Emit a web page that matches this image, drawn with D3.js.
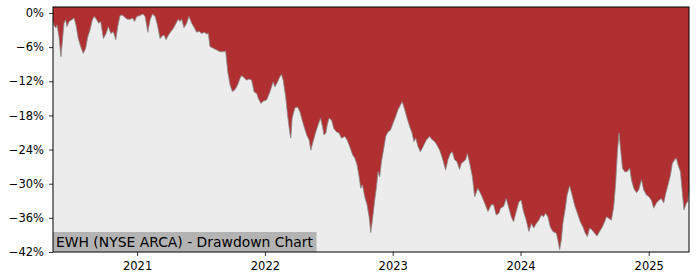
<!DOCTYPE html>
<html>
<head>
<meta charset="utf-8">
<script src="https://cdn.jsdelivr.net/npm/d3@7"></script>
<style>
  body { margin: 0; background: #fff; }
  svg text { font-family: "DejaVu Sans", sans-serif; fill: #000; }
</style>
</head>
<body>
<svg id="chart" width="700" height="280"></svg>
<script>
// decimal years
const years = [
  2020.344, 2020.352, 2020.367, 2020.375, 2020.391, 2020.406, 2020.420, 2020.430, 2020.443, 2020.453,
  2020.469, 2020.490, 2020.508, 2020.523, 2020.541, 2020.560, 2020.580, 2020.599, 2020.615, 2020.633,
  2020.651, 2020.666, 2020.685, 2020.701, 2020.716, 2020.737, 2020.758, 2020.776, 2020.795, 2020.815,
  2020.834, 2020.849, 2020.867, 2020.888, 2020.906, 2020.924, 2020.945, 2020.966, 2020.979, 2020.998,
  2021.018, 2021.045, 2021.063, 2021.084, 2021.102, 2021.120, 2021.141, 2021.159, 2021.180, 2021.198,
  2021.213, 2021.227, 2021.245, 2021.263, 2021.284, 2021.305, 2021.323, 2021.336, 2021.349, 2021.367,
  2021.388, 2021.406, 2021.427, 2021.448, 2021.466, 2021.484, 2021.505, 2021.526, 2021.545, 2021.557,
  2021.570, 2021.596, 2021.623, 2021.648, 2021.674, 2021.693, 2021.709, 2021.727, 2021.745, 2021.766,
  2021.787, 2021.805, 2021.818, 2021.838, 2021.857, 2021.875, 2021.896, 2021.916, 2021.935, 2021.948,
  2021.969, 2021.987, 2022.013, 2022.039, 2022.065, 2022.078, 2022.099, 2022.117, 2022.130, 2022.143,
  2022.162, 2022.177, 2022.195, 2022.203, 2022.213, 2022.234, 2022.255, 2022.273, 2022.299, 2022.326,
  2022.346, 2022.359, 2022.377, 2022.398, 2022.416, 2022.435, 2022.451, 2022.461, 2022.477, 2022.487,
  2022.502, 2022.521, 2022.539, 2022.560, 2022.580, 2022.599, 2022.625, 2022.643, 2022.664, 2022.685,
  2022.703, 2022.721, 2022.737, 2022.750, 2022.763, 2022.781, 2022.799, 2022.815, 2022.828, 2022.841,
  2022.859, 2022.873, 2022.885, 2022.898, 2022.912, 2022.930, 2022.945, 2022.963, 2022.982, 2023.002,
  2023.023, 2023.041, 2023.060, 2023.074, 2023.094, 2023.112, 2023.133, 2023.151, 2023.166, 2023.180,
  2023.198, 2023.216, 2023.237, 2023.263, 2023.289, 2023.310, 2023.328, 2023.346, 2023.367, 2023.388,
  2023.414, 2023.432, 2023.451, 2023.466, 2023.484, 2023.502, 2023.523, 2023.537, 2023.555, 2023.570,
  2023.584, 2023.602, 2023.623, 2023.641, 2023.666, 2023.693, 2023.719, 2023.745, 2023.771, 2023.789,
  2023.810, 2023.830, 2023.844, 2023.867, 2023.888, 2023.909, 2023.927, 2023.945, 2023.966, 2023.987,
  2024.005, 2024.023, 2024.044, 2024.065, 2024.084, 2024.102, 2024.123, 2024.143, 2024.162, 2024.180,
  2024.195, 2024.213, 2024.232, 2024.252, 2024.279, 2024.291, 2024.305, 2024.318, 2024.330, 2024.348,
  2024.363, 2024.383, 2024.402, 2024.422, 2024.448, 2024.466, 2024.487, 2024.505, 2024.521, 2024.539,
  2024.557, 2024.578, 2024.596, 2024.617, 2024.638, 2024.656, 2024.670, 2024.690, 2024.709, 2024.727,
  2024.742, 2024.755, 2024.768, 2024.781, 2024.795, 2024.813, 2024.830, 2024.852, 2024.865, 2024.883,
  2024.904, 2024.922, 2024.943, 2024.961, 2024.982, 2025.002, 2025.021, 2025.039, 2025.060, 2025.080,
  2025.099, 2025.117, 2025.133, 2025.151, 2025.170, 2025.185, 2025.203, 2025.216, 2025.229, 2025.248,
  2025.263, 2025.276, 2025.295, 2025.307, 2025.315
];

// drawdown in %
const drawdown = [
  -1.5, -2.2, -2.6, -2.1, -4.2, -7.7, -4.2, -1.8, -1.2, -2.4,
  -1.5, -1.2, -0.9, -2.1, -4.5, -5.9, -7.1, -6.2, -4.2, -3.0,
  -1.2, -0.6, -1.2, -1.8, -1.5, -4.5, -3.6, -2.4, -3.6, -3.3,
  -4.7, -2.4, -0.4, -0.4, -0.8, -1.1, -1.1, -0.9, -1.5, -0.6,
  -0.5, -0.2, -0.6, -3.4, -1.2, -0.2, -0.6, -2.1, -4.5, -4.0,
  -3.9, -4.7, -3.9, -3.3, -2.7, -1.8, -1.1, -1.5, -1.1, -2.6,
  -1.8, -0.6, -1.8, -2.6, -3.4, -3.2, -3.6, -3.4, -3.7, -3.6,
  -5.9, -6.2, -6.5, -6.8, -6.8, -6.7, -10.3, -12.6, -13.8, -13.5,
  -12.6, -11.5, -11.0, -11.4, -11.8, -11.6, -11.8, -13.9, -14.1, -15.0,
  -15.9, -15.5, -15.3, -13.9, -12.1, -13.0, -12.1, -11.2, -10.8, -11.8,
  -14.7, -17.9, -21.1, -22.0, -18.5, -16.7, -16.5, -17.3, -19.4, -21.4,
  -22.3, -24.1, -22.6, -20.9, -19.7, -18.5, -20.0, -21.4, -21.1, -19.7,
  -18.5, -18.8, -20.3, -20.9, -21.1, -22.0, -21.7, -22.3, -23.5, -24.9,
  -25.5, -26.7, -28.8, -30.8, -30.2, -32.3, -33.7, -35.8, -38.6, -36.4,
  -32.9, -30.5, -27.9, -28.8, -26.1, -23.8, -21.7, -20.9, -20.6, -19.4,
  -18.2, -17.0, -16.2, -15.6, -17.0, -18.5, -20.0, -21.1, -22.6, -22.0,
  -23.5, -24.4, -23.5, -22.3, -21.7, -22.3, -22.6, -23.2, -24.1, -25.5,
  -27.6, -25.8, -24.7, -24.4, -25.8, -26.1, -27.5, -26.4, -26.1, -25.8,
  -24.7, -26.4, -28.8, -32.3, -30.8, -32.0, -33.4, -34.9, -33.7, -33.7,
  -35.5, -35.2, -34.3, -34.0, -32.6, -34.3, -35.8, -36.7, -34.9, -33.2,
  -32.9, -34.9, -36.4, -38.4, -37.0, -37.8, -37.0, -36.4, -35.5, -35.8,
  -35.2, -35.8, -37.6, -38.4, -38.7, -39.9, -41.6, -39.9, -37.0, -34.5,
  -32.0, -30.4, -32.0, -33.8, -35.5, -36.7, -37.6, -38.7, -39.3, -37.8,
  -38.1, -38.7, -39.2, -38.4, -37.6, -36.7, -35.8, -36.1, -36.4, -34.0,
  -29.9, -24.7, -21.1, -24.1, -27.3, -27.9, -27.9, -27.3, -29.3, -30.8,
  -31.6, -31.1, -29.3, -31.1, -32.0, -32.3, -32.9, -34.3, -33.4, -32.9,
  -32.6, -33.4, -31.7, -30.2, -28.5, -26.4, -25.8, -25.5, -26.7, -27.9,
  -31.7, -34.6, -33.4, -33.1, -31.1
];

const yTicks = [0, -6, -12, -18, -24, -30, -36, -42];
const title = "EWH (NYSE ARCA) - Drawdown Chart";

function yearToDate(t) {
  const y = Math.floor(t);
  const a = new Date(y, 0, 1), b = new Date(y + 1, 0, 1);
  return new Date(+a + (t - y) * (b - a));
}

const data = years.map((t, i) => ({ date: yearToDate(t), dd: drawdown[i] }));

const margin = { top: 7, right: 11, bottom: 28, left: 53 };
const width = 700 - margin.left - margin.right;
const height = 280 - margin.top - margin.bottom;

const svg = d3.select('#chart');
const g = svg.append('g').attr('transform', `translate(${margin.left},${margin.top})`);

const x = d3.scaleTime()
  .domain([yearToDate(2020.344), yearToDate(2025.315)])
  .range([0, width]);
const y = d3.scaleLinear().domain([-42, 1.05]).range([height, 0]);

g.append('rect')
  .attr('width', width)
  .attr('height', height)
  .attr('fill', '#ececec');

const area = d3.area()
  .x(d => x(d.date))
  .y0(0)
  .y1(d => y(d.dd));

g.append('path')
  .datum(data)
  .attr('d', area)
  .attr('fill', '#b03031');

const line = d3.line()
  .x(d => x(d.date))
  .y(d => y(d.dd));

g.append('path')
  .datum(data)
  .attr('d', line)
  .attr('fill', 'none')
  .attr('stroke', '#8a8a8a')
  .attr('stroke-width', 0.8);

// axes
const fmt = v => (v < 0 ? '\u2212' : '') + Math.abs(v) + '%';
const yAxis = g.append('g')
  .call(d3.axisLeft(y).tickValues(yTicks).tickFormat(fmt).tickSize(4).tickPadding(5));
const xAxis = g.append('g')
  .attr('transform', `translate(0,${height})`)
  .call(d3.axisBottom(x).ticks(d3.timeYear.every(1)).tickFormat(d3.timeFormat('%Y')).tickSize(4).tickPadding(6));

[yAxis, xAxis].forEach(a => {
  a.select('.domain').remove();
  a.selectAll('text').style('font-size', '11.5px').style('font-family', '"DejaVu Sans", sans-serif');
  a.selectAll('line').attr('stroke', '#000').attr('stroke-width', 0.8);
});

// label box
const label = g.append('g');
const lbRect = label.append('rect').attr('fill', '#b3b3b3');
const lbText = label.append('text')
  .attr('x', 3)
  .attr('y', height - 5)
  .style('font-size', '13.9px')
  .text(title);
const bb = lbText.node().getBBox();
lbRect.attr('x', 0).attr('y', height - 20).attr('width', bb.width + 6).attr('height', 20);

// frame
g.append('rect')
  .attr('width', width)
  .attr('height', height)
  .attr('fill', 'none')
  .attr('stroke', '#000')
  .attr('stroke-width', 1);
</script>
</body>
</html>
